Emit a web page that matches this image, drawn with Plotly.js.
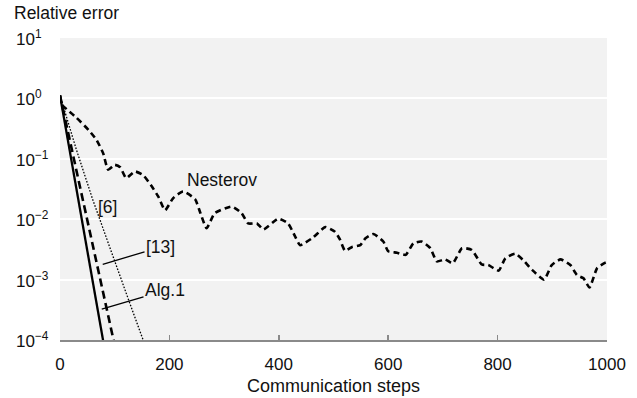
<!DOCTYPE html>
<html>
<head>
<meta charset="utf-8">
<script src="https://cdn.plot.ly/plotly-3.0.1.min.js"></script>
<style>html,body{margin:0;padding:0;background:#fff;}#chart{width:637px;height:398px;}</style>
</head>
<body>
<div id="chart"></div>
<script>
// Communication steps (x) and relative error (y)
const nesterovX = [0, 3, 15, 30, 52, 67, 79, 88, 100, 110, 121, 137, 152, 168, 180, 192, 207, 225, 247, 256, 268, 283, 314, 332, 344, 360, 372, 399, 417, 430, 439, 463, 485, 503, 512, 521, 534, 549, 558, 573, 591, 600, 616, 632, 646, 661, 677, 689, 704, 718, 735, 753, 771, 783, 802, 814, 832, 847, 863, 885, 899, 915, 933, 945, 957, 968, 982, 997, 1000];
const nesterovY = [1.12, 0.794, 0.631, 0.479, 0.302, 0.204, 0.123, 0.0661, 0.0794, 0.0724, 0.0479, 0.0617, 0.0537, 0.0347, 0.0234, 0.0141, 0.0224, 0.0288, 0.0214, 0.0132, 0.00708, 0.0126, 0.0162, 0.0126, 0.00851, 0.00851, 0.00676, 0.0102, 0.00851, 0.00513, 0.00372, 0.00501, 0.00741, 0.00617, 0.00457, 0.00302, 0.00347, 0.00372, 0.00479, 0.00569, 0.00427, 0.00295, 0.00279, 0.00257, 0.00398, 0.00427, 0.00331, 0.00200, 0.00216, 0.00186, 0.00331, 0.00309, 0.00178, 0.00174, 0.00141, 0.00224, 0.00269, 0.00209, 0.00145, 0.00100, 0.00174, 0.00216, 0.00174, 0.00119, 0.00105, 0.000741, 0.00155, 0.00191, 0.00195];

const alg1X = [0, 10, 20, 30, 40, 50, 60, 70, 80];
const alg1Y = [1.12, 0.339, 0.105, 0.0316, 0.00977, 0.00295, 0.000912, 0.000275, 0.0000851];

const ref13X = [0, 20, 40, 60, 80, 100];
const ref13Y = [1.12, 0.166, 0.0245, 0.00372, 0.00055, 0.0000813];

const ref6X = [0, 30, 60, 90, 120, 150, 160];
const ref6Y = [1.12, 0.141, 0.0209, 0.00355, 0.000631, 0.000112, 0.0000631];

const xTicks = [0, 200, 400, 600, 800, 1000];
const yExponents = [-4, -3, -2, -1, 0, 1];
const yTickText = ['10<sup>\u22124</sup>', '10<sup>\u22123</sup>', '10<sup>\u22122</sup>', '10<sup>\u22121</sup>', '10<sup>0</sup>', '10<sup>1</sup>'];

const FONT = '"Liberation Sans", Arial, Helvetica, sans-serif';
const TXT = '#111';

const traces = [
  {x: nesterovX, y: nesterovY, mode: 'lines', line: {color: '#000', width: 2.6, dash: '6px,4px', shape: 'spline', smoothing: 0.5}, name: 'Nesterov'},
  {x: ref6X, y: ref6Y, mode: 'lines', line: {color: '#000', width: 1.3, dash: '1.6px,1.6px'}, name: '[6]'},
  {x: ref13X, y: ref13Y, mode: 'lines', line: {color: '#000', width: 2.6, dash: '8px,4.5px'}, name: '[13]'},
  {x: alg1X, y: alg1Y, mode: 'lines', line: {color: '#000', width: 2.3}, name: 'Alg.1'}
];

// left-aligned y tick labels (as in the reference)
const yLabelAnnotations = yExponents.map((e, i) => ({
  xref: 'paper', yref: 'y', x: -0.0841, y: e, xanchor: 'left', yanchor: 'middle',
  text: yTickText[i], showarrow: false, font: {size: 17}
}));

const layout = {
  width: 637, height: 398,
  margin: {l: 60, r: 30, t: 38, b: 58},
  paper_bgcolor: '#fff', plot_bgcolor: '#f2f2f2',
  showlegend: false,
  font: {family: FONT, size: 17, color: TXT},
  xaxis: {
    range: [0, 1000], tickmode: 'array', tickvals: xTicks,
    ticks: 'inside', ticklen: 5, tickwidth: 1.5, tickcolor: '#8a8a8a',
    showline: true, linecolor: '#8a8a8a', linewidth: 1.6,
    showgrid: false, zeroline: false,
    ticklabelstandoff: 8,
    tickfont: {family: FONT, size: 17, color: TXT}
  },
  yaxis: {
    type: 'log', range: [-4, 1], tickmode: 'array', tickvals: yExponents.map(e => Math.pow(10, e)),
    showticklabels: false,
    ticks: '', showline: false, zeroline: false,
    showgrid: true, gridcolor: '#ffffff', gridwidth: 2
  },
  annotations: yLabelAnnotations.concat([
    {xref: 'paper', yref: 'paper', x: -0.087, y: 1.084, xanchor: 'left', yanchor: 'middle', text: 'Relative error', showarrow: false, font: {size: 17.5}},
    {xref: 'paper', yref: 'paper', x: 0.5, y: -0.152, xanchor: 'center', yanchor: 'middle', text: 'Communication steps', showarrow: false, font: {size: 18}},
    {xref: 'x', yref: 'y', x: 296, y: -1.35, text: 'Nesterov', showarrow: false, font: {size: 17.5}},
    {xref: 'x', yref: 'y', x: 87, y: -1.793, text: '[6]', showarrow: false, font: {size: 17.5}},
    {xref: 'x', yref: 'y', x: 78.1, y: -2.748, axref: 'x', ayref: 'y', ax: 183.8, ay: -2.461, text: '[13]', showarrow: true, arrowhead: 0, arrowwidth: 1.3, arrowcolor: '#000', standoff: 0, font: {size: 17.5}},
    {xref: 'x', yref: 'y', x: 76.3, y: -3.489, axref: 'x', ayref: 'y', ax: 192, ay: -3.179, text: 'Alg.1', showarrow: true, arrowhead: 0, arrowwidth: 1.3, arrowcolor: '#000', standoff: 0, font: {size: 17.5}}
  ])
};

Plotly.newPlot('chart', traces, layout, {staticPlot: true, displayModeBar: false});
</script>
</body>
</html>
